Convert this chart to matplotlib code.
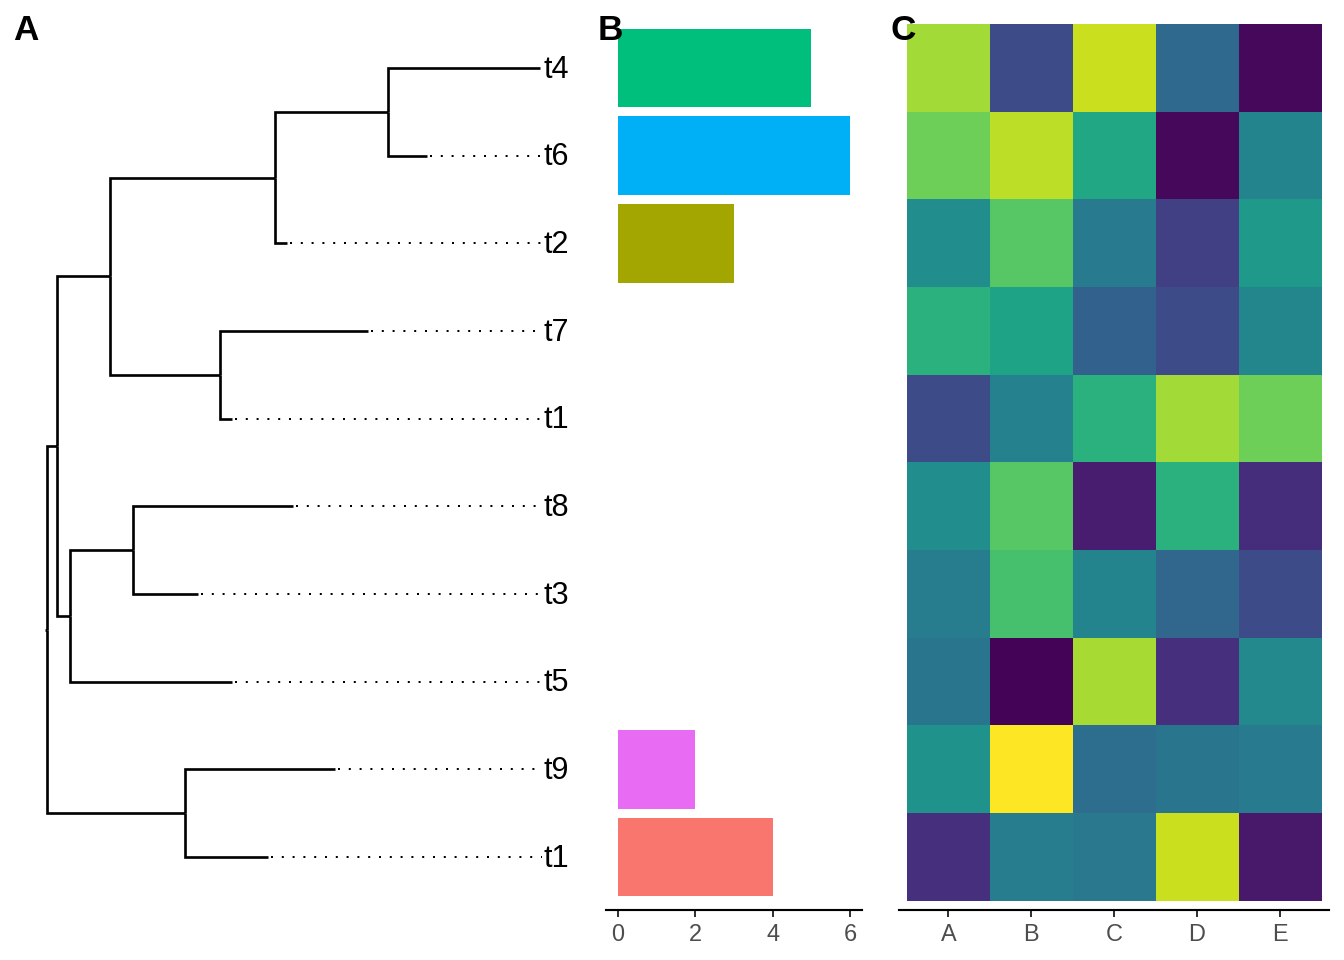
import numpy as np
import matplotlib
matplotlib.use('Agg')
import matplotlib.pyplot as plt
from matplotlib.collections import LineCollection

plt.rcParams['font.family'] = ['Liberation Sans', 'DejaVu Sans']

# tips, top to bottom
tip_labels = ['t4', 't6', 't2', 't7', 't1', 't8', 't3', 't5', 't9', 't1']

# tree edges: tips are nodes 0-9, internal nodes 10-18 (10 = root)
edge_parent = [10, 11, 12, 13, 14, 14, 13, 12, 15, 15, 11, 16, 17, 17, 16, 10, 18, 18]
edge_child = [11, 12, 13, 14, 0, 1, 2, 15, 3, 4, 16, 17, 5, 6, 7, 18, 8, 9]
edge_length = [0.10, 0.53, 1.65, 1.13, 1.52, 0.39, 0.12, 1.10, 1.48, 0.12,
               0.13, 0.63, 1.60, 0.65, 1.62, 1.38, 1.50, 0.83]

# panel B: bar values for some tips (row index into tip_labels)
bar_rows = [0, 1, 2, 8, 9]
bar_values = [5, 6, 3, 2, 4]
bar_colors = ['#00BF7D', '#00B0F6', '#A3A500', '#E76BF3', '#F8766D']

# panel C: heatmap, rows follow tip_labels, columns A-E
heat_cols = ['A', 'B', 'C', 'D', 'E']
heat_values = np.array([
    [0.86, 0.23, 0.92, 0.34, 0.02],
    [0.78, 0.90, 0.60, 0.02, 0.45],
    [0.49, 0.74, 0.41, 0.19, 0.54],
    [0.64, 0.58, 0.31, 0.23, 0.46],
    [0.23, 0.44, 0.64, 0.86, 0.78],
    [0.49, 0.74, 0.08, 0.64, 0.13],
    [0.42, 0.71, 0.45, 0.33, 0.23],
    [0.39, 0.01, 0.87, 0.14, 0.47],
    [0.51, 1.00, 0.36, 0.39, 0.41],
    [0.14, 0.42, 0.40, 0.92, 0.07],
])


def layout_tree():
    n_nodes = max(edge_parent + edge_child) + 1
    x = np.zeros(n_nodes)
    y = np.zeros(n_nodes)
    children = {}
    for p, c, bl in zip(edge_parent, edge_child, edge_length):
        x[c] = x[p] + bl
        children.setdefault(p, []).append(c)
    n_tips = len(tip_labels)
    for i in range(n_tips):
        y[i] = n_tips - i

    def set_y(node):
        if node in children:
            y[node] = np.mean([set_y(ch) for ch in children[node]])
        return y[node]

    set_y(10)
    return x, y, children


x, y, children = layout_tree()
max_x = x[:len(tip_labels)].max()

fig = plt.figure(figsize=(7, 5), dpi=192)
ax_bottom, ax_height = 1 - 909.6 / 960, (909.6 - 15.4) / 960
ylim = (0.4, len(tip_labels) + 0.6)

# ---- A: tree
axA = fig.add_axes([0, ax_bottom, 595 / 1344, ax_height])
segs = []
for p, c in zip(edge_parent, edge_child):
    segs.append([(x[p], y[p]), (x[p], y[c]), (x[c], y[c])])
segs.append([(-0.02, y[10]), (0, y[10])])
axA.add_collection(LineCollection(segs, colors='black', linewidths=1.0,
                                  joinstyle='miter', capstyle='butt'))
for i, lab in enumerate(tip_labels):
    if x[i] < max_x - 1e-6:
        axA.plot([x[i] + 0.03, max_x + 0.02], [y[i], y[i]], color='black', lw=0.75,
                 linestyle=(0, (1, 4.4)))
    axA.text(max_x + 0.04, y[i] - 0.02, lab, ha='left', va='center', fontsize=11.5)
axA.set_xlim(-0.47, 5.48)
axA.set_ylim(*ylim)
axA.axis('off')

tick_kw = dict(length=2.75, width=0.75, color='#333333', labelcolor='#4D4D4D',
               labelsize=8.8, pad=2.2)

# ---- B: bars
axB = fig.add_axes([606.4 / 1344, ax_bottom, 255.2 / 1344, ax_height])
bar_y = [y[r] for r in bar_rows]
axB.barh(bar_y, bar_values, height=0.9, color=bar_colors)
axB.set_xlim(-0.3, 6.3)
axB.set_ylim(*ylim)
axB.set_xticks([0, 2, 4, 6])
axB.set_yticks([])
axB.tick_params(axis='x', **tick_kw)

# ---- C: heatmap
axC = fig.add_axes([898.8 / 1344, ax_bottom, 430.6 / 1344, ax_height])
axC.imshow(heat_values, cmap='viridis', vmin=0, vmax=1, aspect='auto',
           extent=(0.5, len(heat_cols) + 0.5, 0.5, len(tip_labels) + 0.5),
           interpolation='nearest')
axC.set_xlim(0.4, len(heat_cols) + 0.6)
axC.set_ylim(*ylim)
axC.set_xticks(range(1, len(heat_cols) + 1))
axC.set_xticklabels(heat_cols)
axC.set_yticks([])
axC.tick_params(axis='x', **tick_kw)

for a in (axB, axC):
    for s in ('left', 'top', 'right'):
        a.spines[s].set_visible(False)
    a.spines['bottom'].set_linewidth(0.8)
    a.spines['bottom'].set_color('black')

# panel tags
for tag, px in [('A', 13), ('B', 598), ('C', 890)]:
    fig.text(px / 1344, 1 - 14 / 960, tag, fontsize=13.2, fontweight='bold',
             ha='left', va='top')

fig.savefig('out.png', dpi=192)
